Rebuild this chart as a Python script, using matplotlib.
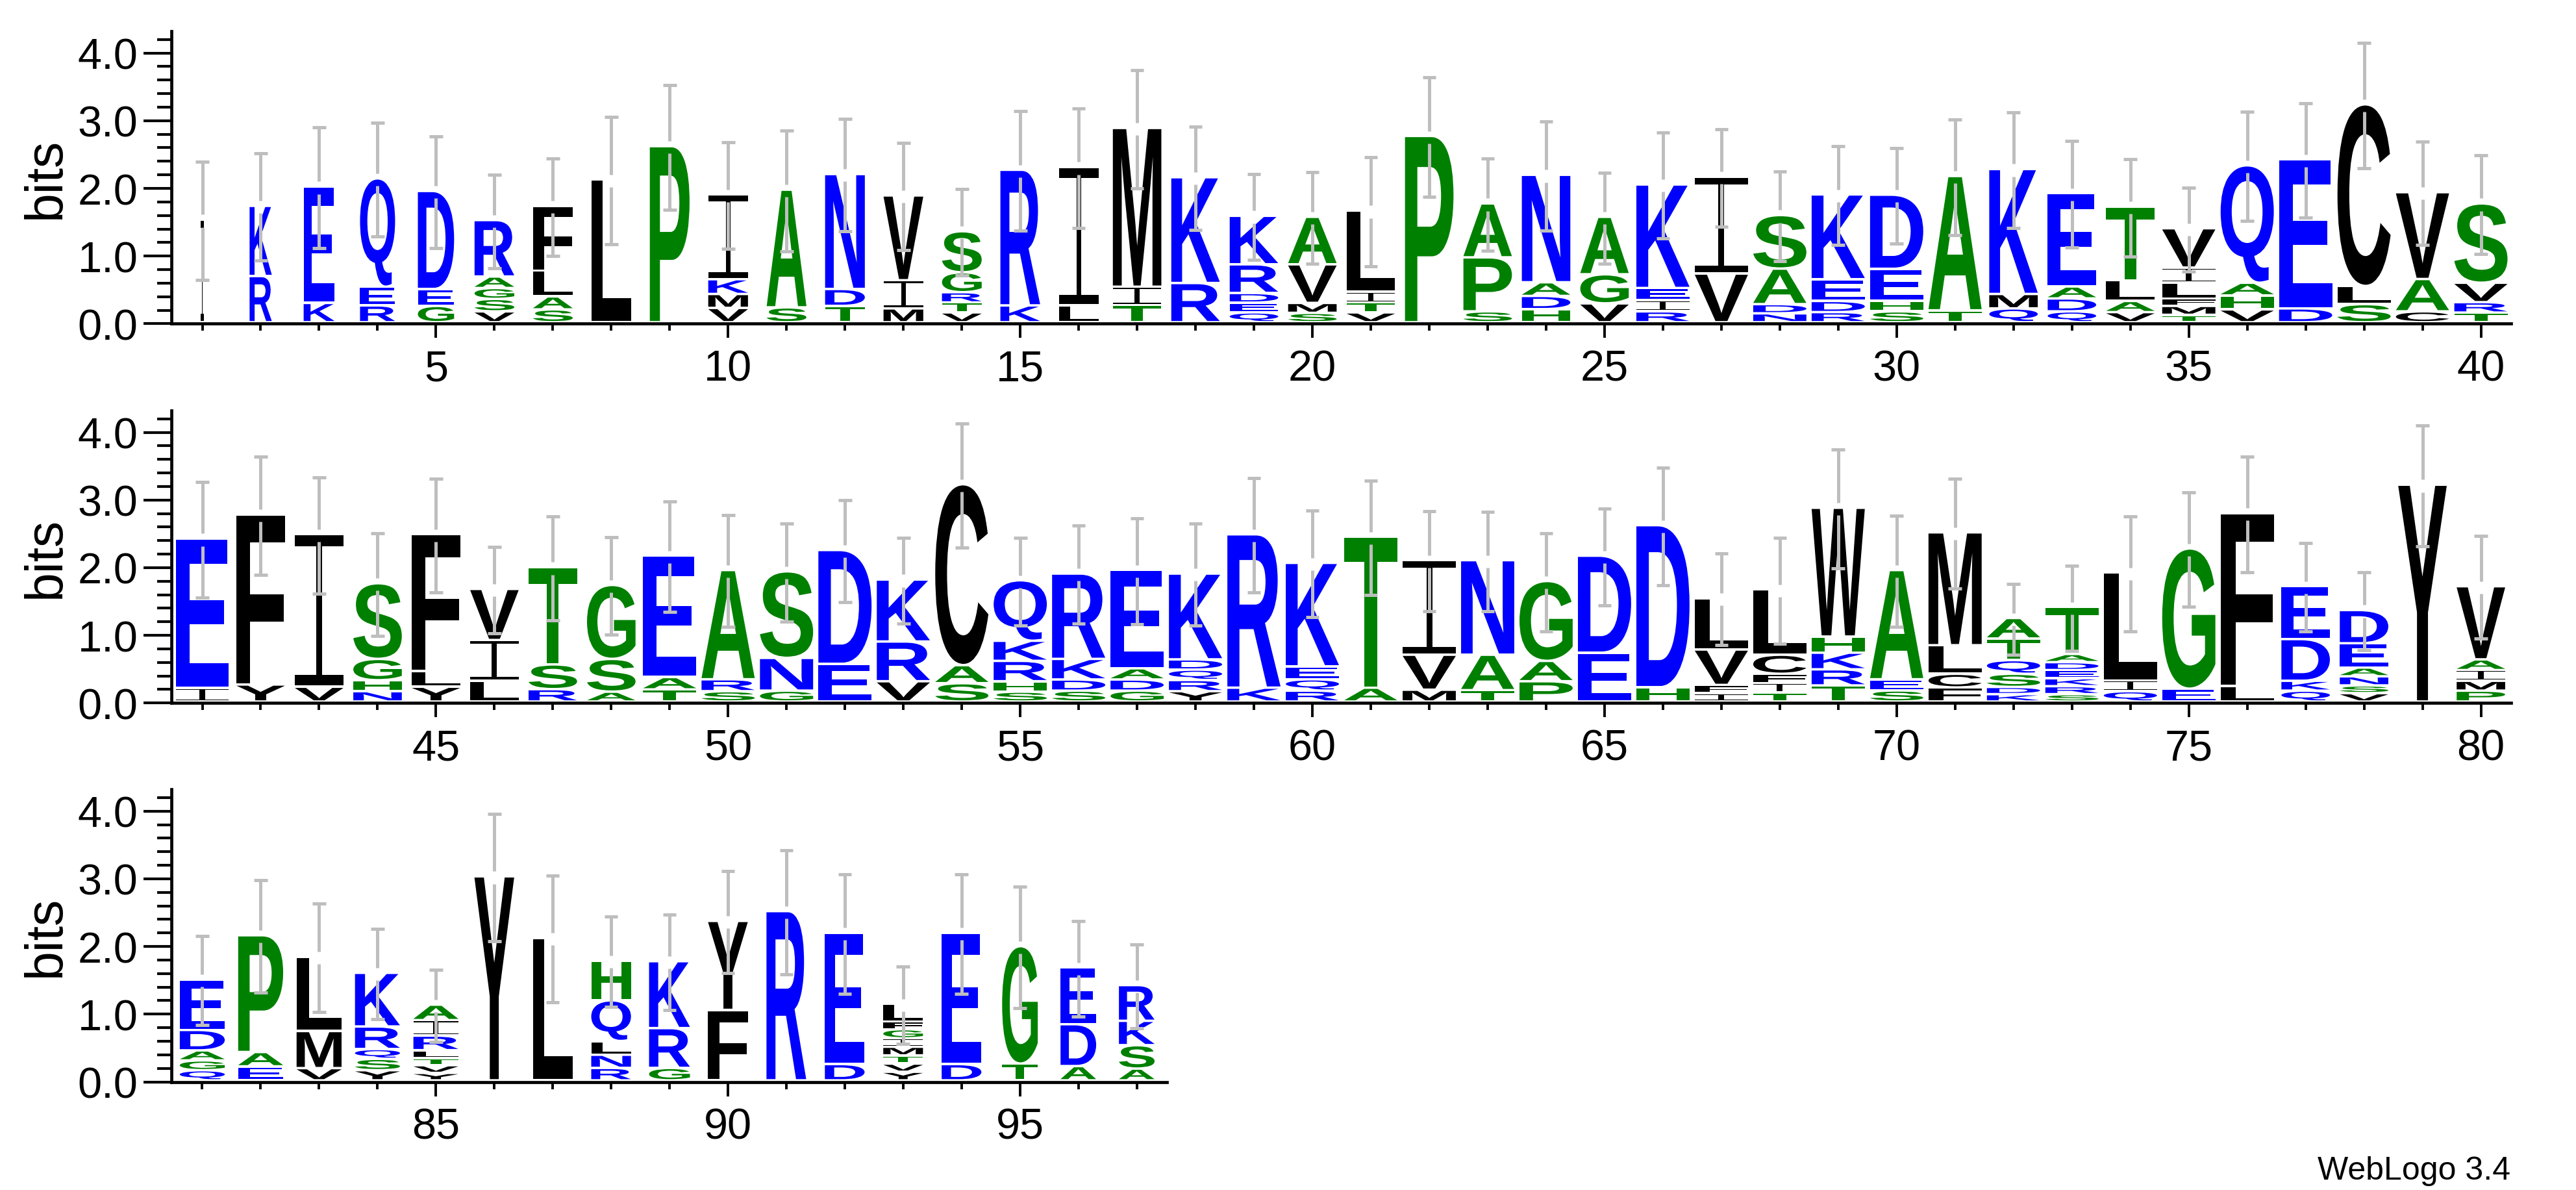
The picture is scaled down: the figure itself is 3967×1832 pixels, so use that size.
import matplotlib
matplotlib.use('Agg')
import matplotlib.pyplot as plt
from matplotlib.font_manager import FontProperties
from matplotlib.patches import PathPatch, Rectangle
from matplotlib.textpath import TextPath
from matplotlib.transforms import Affine2D
from matplotlib.ticker import FixedLocator, FormatStrFormatter, NullFormatter

plt.rcParams['font.family'] = ['Liberation Sans', 'DejaVu Sans']

# letters of each column from bottom to top, and the top of each letter in bits
letters_row1 = ['I', 'RK', 'KE', 'REQ', 'GED', 'VSGAR', 'SALF', 'L', 'P', 'VMKI',
                'SA', 'TDN', 'MIV', 'VTRGS', 'KR', 'LI', 'TIM', 'RK', 'QEDRK', 'SMVA',
                'VTIL', 'P', 'SPA', 'HDAN', 'VGA', 'RIEK', 'VI', 'NDAS', 'RDEK', 'SHED',
                'TA', 'QMK', 'QDAE', 'VALT', 'TMFLIV', 'VHAQ', 'DE', 'SLC', 'CAV', 'TRVS']
tops_row1 = [[1.48], [.647, 1.684], [.25, 1.97], [.213, .489, 2.09], [.206, .456, 1.904],
             [.125, .309, .47, .64, 1.474], [.154, .346, .728, 1.684], [2.074], [2.566],
             [.176, .382, .6, 1.853], [.184, 1.923], [.206, .456, 2.154], [.169, .585, 1.838],
             [.11, .257, .408, .702, 1.309], [.213, 2.217], [.213, 2.257], [.22, .489, 2.835],
             [.544, 2.107], [.11, .254, .397, .82, 1.537], [.103, .25, .82, 1.522],
             [.11, .257, .415, 1.614], [2.717], [.125, .923, 1.72], [.158, .353, .555, 2.143],
             [.243, .673, 1.522], [.125, .294, .47, 2.0], [.684, 2.118], [.096, .232, .757, 1.548],
             [.114, .279, .6, 1.853], [.125, .283, .754, 1.849], [.14, 2.125], [.169, .382, 2.228],
             [.125, .316, .493, 1.871], [.114, .279, .585, 1.673],
             [.074, .206, .316, .548, .772, 1.353], [.154, .36, .548, 2.283], [.169, 2.371],
             [.232, .5, 3.184], [.125, .603, 1.886], [.107, .261, .548, 1.72]]
err_row1 = [.875, .79, .89, .836, .825, .69, .72, .94, .92, .785,
            .893, .83, .79, .638, .884, .884, .875, .76, .63, .676,
            .803, .884, .682, .807, .671, .783, .72, .664, .73, .706,
            .855, .851, .789, .72, .618, .807, .846, .923, .763, .73]
widths_row1 = [.06, .38, .53, .6, .62, .68, .68, .68, .68, .68,
               .68, .68, .68, .68, .68, .68, .83, .83, .83, .83,
               .83, .83, .83, .83, .83, .91, .91, .91, .91, .91,
               .91, .83, .83, .83, .91, .91, .91, .91, .91, .91]

letters_row2 = ['IE', 'YF', 'VI', 'NHGS', 'YLF', 'LIV', 'RST', 'ASG', 'TAE', 'SRA',
                'GNS', 'ED', 'VRK', 'SAC', 'SHRKQ', 'SDKR', 'GDAE', 'YRQDK', 'KR', 'RQEK',
                'AT', 'MVI', 'TAN', 'PAG', 'ED', 'HD', 'IFVL', 'TIFCL', 'TRKHW', 'SEA',
                'FCLM', 'KDSQTA', 'SRKEDAT', 'QIL', 'EG', 'LF', 'QKDE', 'VSNAED', 'Y', 'PMIAV']
tops_row2 = [[.165, 2.372], [.216, 2.731], [.183, 2.435], [.117, .279, .594, 1.712],
             [.183, .418, 2.435], [.271, .873, 1.628], [.147, .513, 1.95], [.11, .594, 1.687],
             [.143, .326, 2.119], [.117, .293, 1.907], [.125, .609, 1.888], [.521, 2.203],
             [.264, .851, 1.767], [.235, .502, 3.175], [.11, .264, .565, .862, 1.756],
             [.125, .29, .594, 1.855], [.125, .29, .455, 1.907], [.117, .282, .436, .587, 1.855],
             [.169, 2.435], [.125, .293, .484, 2.013], [.169, 2.398], [.139, .656, 2.053],
             [.132, .656, 2.053], [.264, .565, 1.745], [.686, 2.119], [.176, 2.57],
             [.088, .209, .733, 1.492], [.095, .238, .374, .656, 1.62],
             [.202, .44, .686, .924, 2.827], [.128, .293, 1.907], [.172, .374, .796, 2.464],
             [.073, .18, .374, .576, .895, 1.199], [.073, .191, .308, .429, .546, .667, 1.36],
             [.117, .275, 1.87], [.154, 2.226], [.191, 2.75], [.125, .271, .887, 1.668],
             [.088, .202, .337, .466, .825, 1.316], [3.168], [.125, .271, .429, .587, 1.668]]
err_row2 = [.85, .873, .856, .757, .843, .642, .768, .719, .816, .825,
            .728, .752, .634, .915, .649, .726, .779, .752, .845, .786,
            .843, .739, .733, .724, .713, .867, .676, .781, .882, .823,
            .814, .522, .632, .847, .847, .854, .653, .577, .895, .757]
widths_row2 = [.91, .83, .83, .83, .83, .83, .83, .83, .91, .91,
               .91, .91, .91, .91, .91, .91, .91, .91, .91, .91,
               .91, .91, .91, .91, .91, .91, .91, .91, .91, .91,
               .91, .91, .91, .91, .91, .91, .83, .83, .83, .83]

letters_row3 = ['QGADE', 'EAP', 'VML', 'YSQRK', 'YVTLRIA', 'Y', 'L', 'RNLQH', 'GRK',
                'FY', 'R', 'DE', 'YVTMIGFL', 'DE', 'TG', 'ADE', 'ASKR']
tops_row3 = [[.114, .259, .407, .709, 1.456], [.171, .383, 2.108], [.145, .693, 1.792],
             [.114, .282, .427, .76, 1.553], [.074, .188, .293, .41, .625, .854, 1.083],
             [2.979], [2.071], [.148, .343, .545, 1.147, 1.735], [.148, .736, 1.725],
             [1.005, 2.32], [2.465], [.205, 2.145],
             [.091, .212, .333, .461, .585, .72, .834, 1.093], [.205, 2.145],
             [.212, 1.947], [.175, .794, 1.631], [.138, .484, .844, 1.372]]
err_row3 = [.657, .831, .805, .666, .533, .94, .938, .669, .708,
            .753, .92, .881, .572, .881, .898, .703, .622]
widths_row3 = [.77, .77, .77, .77, .77, .68, .68, .68, .7,
               .68, .68, .68, .68, .68, .61, .61, .61]

first_positions = [1, 41, 81]
baselines_px = [499.4, 1083.3, 1666.5]

W, H = 3967, 1833
left_px = 264
right_px = [3867, 3867, 1797]
bit_px = 104.2
top_bits = 4.32
base_off = 0.04
gap = 0.036
err_gap = 0.092

green = '#008000'
blue = '#0000ff'
colors = {}
for c in 'AGSTPH':
    colors[c] = green
for c in 'CFILMVWY':
    colors[c] = 'black'
for c in 'DEKNQR':
    colors[c] = blue

bold = FontProperties(family='Liberation Sans', weight='bold')


def draw_letter(ax, ch, x, y0, y1, w):
    if ch == 'I':
        # no installed font has this I-beam, so stack bars and stem
        bar = (y1 - y0) * 0.07
        stem = max(w * 0.11, 0.02)
        ax.add_patch(Rectangle((x - w / 2, y0), w, bar, fc='black', lw=0, zorder=2))
        ax.add_patch(Rectangle((x - w / 2, y1 - bar), w, bar, fc='black', lw=0, zorder=2))
        ax.add_patch(Rectangle((x - stem / 2, y0), stem, y1 - y0, fc='black', lw=0, zorder=2))
        return
    tp = TextPath((0, 0), ch, size=1, prop=bold)
    bb = tp.get_extents()
    tr = (Affine2D().translate(-bb.x0, -bb.y0)
          .scale(w / bb.width, (y1 - y0) / bb.height)
          .translate(x - w / 2, y0))
    ax.add_patch(PathPatch(tr.transform_path(tp), fc=colors[ch], lw=0, zorder=2))


def draw_row(ax, first, letters, tops, errs, widths):
    for i in range(len(letters)):
        pos = first + i
        prev = 0
        for j, ch in enumerate(letters[i]):
            y0 = prev + (gap if j > 0 else 0)
            draw_letter(ax, ch, pos, y0 + base_off, tops[i][j] + base_off, widths[i])
            prev = tops[i][j]
        c = prev + base_off
        e = errs[i]
        ax.vlines([pos, pos], [c + err_gap, c - e], [c + e, c - err_gap],
                  color='#bebebe', lw=3.6, zorder=3, capstyle='butt')
        ax.hlines([c + e, c - e], pos - 0.115, pos + 0.115,
                  color='#bebebe', lw=3.6, zorder=3)


fig = plt.figure(figsize=(W / 100, H / 100), dpi=100)
rows = [(letters_row1, tops_row1, err_row1, widths_row1),
        (letters_row2, tops_row2, err_row2, widths_row2),
        (letters_row3, tops_row3, err_row3, widths_row3)]

for r in range(3):
    letters, tops, errs, widths = rows[r]
    first = first_positions[r]
    last = first + len(letters) - 1
    axw = right_px[r] - left_px
    axh = top_bits * bit_px
    ax = fig.add_axes([left_px / W, 1 - baselines_px[r] / H, axw / W, axh / H])
    ax.set_xlim(first - 0.528, last + 0.516)
    ax.set_ylim(0, top_bits)
    draw_row(ax, first, letters, tops, errs, widths)

    for s in ['top', 'right']:
        ax.spines[s].set_visible(False)
    for s in ['left', 'bottom']:
        ax.spines[s].set_linewidth(3.4)

    all_pos = list(range(first, last + 1))
    ax.xaxis.set_major_locator(FixedLocator([p for p in all_pos if p % 5 == 0]))
    ax.xaxis.set_minor_locator(FixedLocator([p for p in all_pos if p % 5 != 0]))
    ax.xaxis.set_major_formatter(FormatStrFormatter('%d'))
    ax.xaxis.set_minor_formatter(NullFormatter())
    ax.yaxis.set_major_locator(FixedLocator([0, 1, 2, 3, 4]))
    ax.yaxis.set_minor_locator(FixedLocator([k * 0.2 for k in range(22) if k % 5 != 0]))
    ax.yaxis.set_major_formatter(FormatStrFormatter('%.1f'))
    ax.tick_params(axis='x', which='major', direction='out', length=16, width=2.8, labelsize=48, pad=12)
    ax.tick_params(axis='x', which='minor', direction='out', length=8, width=2.8)
    ax.tick_params(axis='y', which='major', direction='out', length=31, width=3.0, labelsize=48, pad=6)
    ax.tick_params(axis='y', which='minor', direction='out', length=16, width=3.0)
    ax.set_ylabel('bits', fontsize=58)
    ax.yaxis.set_label_coords((109 - left_px) / axw, 0.5)

fig.text(3866 / W, 1 - 1816 / H, 'WebLogo 3.4', fontsize=36, ha='right', va='baseline')

fig.savefig('out.png', dpi=100)
